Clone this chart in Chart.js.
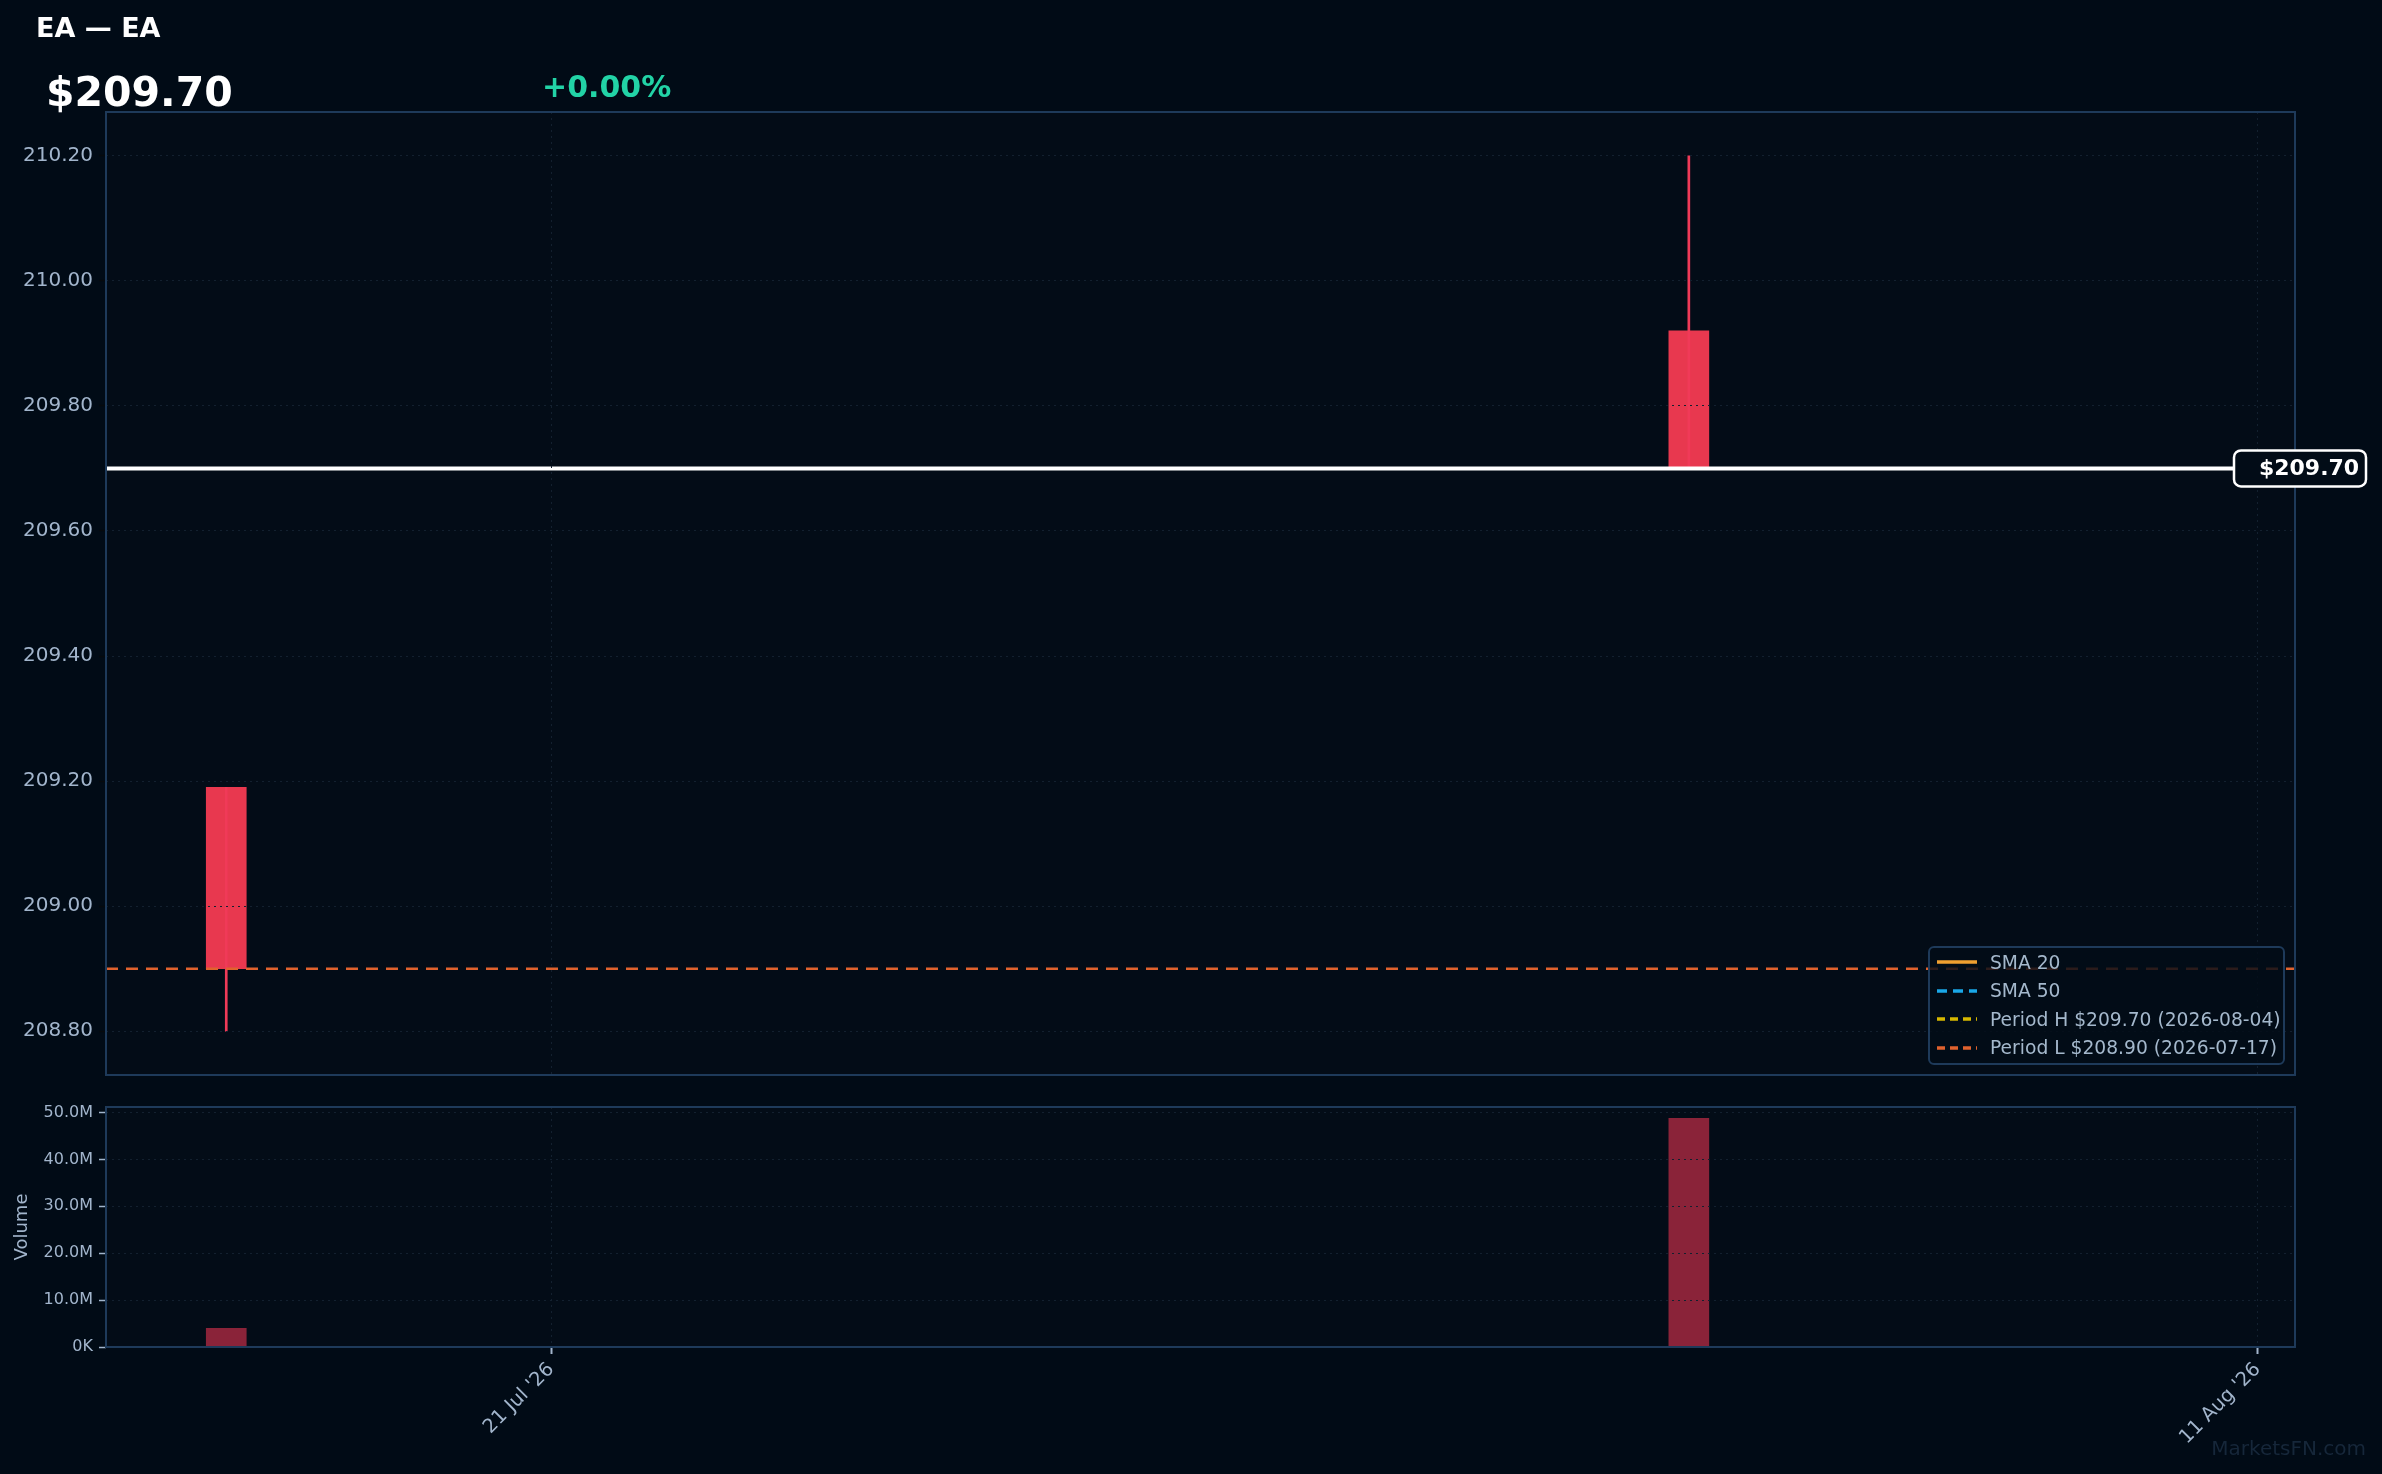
<!DOCTYPE html>
<html lang="en">
<head>
  <meta charset="UTF-8">
  <title>EA — EA</title>
  <script src="https://cdn.jsdelivr.net/npm/chart.js"></script>
  <style>
    html, body { margin: 0; padding: 0; background: #010b16; }
    body { width: 2382px; height: 1474px; position: relative; overflow: hidden; font-family: "DejaVu Sans", sans-serif; }
    canvas { position: absolute; left: 0; top: 0; }
    .txt { position: absolute; line-height: 1; white-space: nowrap; z-index: 5; }
    #title { left: 36px; top: 14px; font-size: 27px; font-weight: bold; color: #ffffff; }
    #price { left: 46px; top: 72px; font-size: 41px; font-weight: bold; color: #ffffff; }
    #change { left: 542px; top: 72px; font-size: 30px; font-weight: bold; color: #22d3a6; }
    #legend { position: absolute; left: 1928px; top: 946px; width: 353px; height: 115px; z-index: 6;
      background: rgba(2, 12, 23, 0.82); border: 2px solid #1e3a5a; border-radius: 6px; box-sizing: content-box; }
    .row { height: 28.5px; display: flex; align-items: center; padding-left: 7px; font-size: 18.7px; color: #a4b8cc; }
    .row svg { margin-right: 13px; }
    #mark { right: 16px; top: 1438px; font-size: 20px; color: #16273a; }
  </style>
</head>
<body>

  <div id="title" class="txt"></div>
  <div id="price" class="txt"></div>
  <div id="change" class="txt"></div>
  <div id="legend"></div>
  <div id="mark" class="txt">MarketsFN.com</div>

  <canvas id="priceChart" width="2382" height="1474"></canvas>
  <canvas id="volumeChart" width="2382" height="1474"></canvas>

  <script>
    // daily bars
    const ticker = 'EA';
    const dates = ['2026-07-17', '2026-08-04'];
    const opens = [209.19, 209.92];
    const highs = [209.19, 210.20];
    const lows = [208.80, 209.70];
    const closes = [208.90, 209.70];
    const volumes = [4.0e6, 48.75e6];

    // axis ticks
    const xTickDates = ['2026-07-21', '2026-08-11'];
    const priceTicks = [208.80, 209.00, 209.20, 209.40, 209.60, 209.80, 210.00, 210.20];
    const volumeTicks = [0, 10e6, 20e6, 30e6, 40e6, 50e6];

    const DAY = 86400000;
    const MONTHS = ['Jan', 'Feb', 'Mar', 'Apr', 'May', 'Jun', 'Jul', 'Aug', 'Sep', 'Oct', 'Nov', 'Dec'];
    const dayNum = s => Date.parse(s + 'T00:00:00Z') / DAY;
    const fmtDay = v => {
      const d = new Date(Math.round(v) * DAY);
      return d.getUTCDate() + ' ' + MONTHS[d.getUTCMonth()] + " '" + String(d.getUTCFullYear()).slice(2);
    };

    const xs = dates.map(dayNum);
    const xMin = xs[0] - 1.48;
    const xMax = xs[xs.length - 1] + 7.46;

    const lastClose = closes[closes.length - 1];
    const pct = 0; // header shows +0.00%
    let hiIdx = 0, loIdx = 0;
    closes.forEach((c, i) => { if (c > closes[hiIdx]) hiIdx = i; if (c < closes[loIdx]) loIdx = i; });
    const periodHigh = closes[hiIdx], periodLow = closes[loIdx];

    const pLo = Math.min(...lows), pHi = Math.max(...highs);
    const pad = (pHi - pLo) * 0.05;
    const vMax = Math.max(...volumes) * 1.05;

    document.getElementById('title').textContent = ticker + ' — ' + ticker;
    document.getElementById('price').textContent = '$' + lastClose.toFixed(2);
    document.getElementById('change').textContent = '+' + pct.toFixed(2) + '%';

    // legend
    const legendItems = [
      { label: 'SMA 20', color: '#f0a030', dash: '' },
      { label: 'SMA 50', color: '#1aa8e8', dash: '10 6' },
      { label: 'Period H $' + periodHigh.toFixed(2) + ' (' + dates[hiIdx] + ')', color: '#d6b800', dash: '8 5' },
      { label: 'Period L $' + periodLow.toFixed(2) + ' (' + dates[loIdx] + ')', color: '#e0622e', dash: '8 5' }
    ];
    document.getElementById('legend').innerHTML = legendItems.map(it =>
      '<div class="row"><svg width="40" height="6"><line x1="0" y1="3" x2="40" y2="3" stroke="' + it.color +
      '" stroke-width="3.5" stroke-dasharray="' + it.dash + '"/></svg>' + it.label + '</div>').join('');

    const candleColor = closes.map((c, i) => c >= opens[i] ? '#22c58b' : '#e8384f');
    const wickColor = closes.map((c, i) => c >= opens[i] ? '#2bd698' : '#f03a58');
    const volColor = closes.map((c, i) => c >= opens[i] ? '#1d6e55' : '#8a2339');

    const gridColor = '#13202f';
    const tickText = '#a2b5cc';
    const FONT = 'DejaVu Sans';

    // plot background + frame
    const framePlugin = {
      id: 'frame',
      beforeDraw(chart) {
        const { ctx, chartArea: a } = chart;
        ctx.save();
        ctx.fillStyle = '#030c17';
        ctx.fillRect(a.left, a.top, a.right - a.left, a.bottom - a.top);
        ctx.restore();
      },
      afterDraw(chart) {
        const { ctx, chartArea: a } = chart;
        ctx.save();
        ctx.strokeStyle = '#1e3a5a';
        ctx.lineWidth = 2;
        ctx.strokeRect(a.left, a.top, a.right - a.left, a.bottom - a.top);
        ctx.restore();
      }
    };

    // last price tag on the right edge
    const priceTag = {
      id: 'priceTag',
      afterDraw(chart) {
        const ctx = chart.ctx;
        const y = chart.scales.y.getPixelForValue(lastClose);
        ctx.save();
        ctx.beginPath();
        ctx.roundRect(2234, y - 18, 132, 36, 7);
        ctx.fillStyle = '#020c17';
        ctx.fill();
        ctx.lineWidth = 2.5;
        ctx.strokeStyle = '#ffffff';
        ctx.stroke();
        ctx.fillStyle = '#ffffff';
        ctx.font = 'bold 22px "' + FONT + '"';
        ctx.textAlign = 'center';
        ctx.textBaseline = 'middle';
        ctx.fillText('$' + lastClose.toFixed(2), 2309, y + 1);
        ctx.restore();
      }
    };

    const hLine = (v, color, width, dash, order) => ({
      type: 'line',
      data: [{ x: xMin, y: v }, { x: xMax, y: v }],
      borderColor: color,
      borderWidth: width,
      borderDash: dash,
      pointRadius: 0,
      order: order
    });

    new Chart(document.getElementById('priceChart'), {
      type: 'bar',
      data: {
        datasets: [
          {
            data: xs.map((x, i) => ({ x: x, y: [opens[i], closes[i]] })),
            backgroundColor: candleColor,
            barThickness: 40,
            grouped: false,
            borderWidth: 0,
            order: 4
          },
          {
            data: xs.map((x, i) => ({ x: x, y: [lows[i], highs[i]] })),
            backgroundColor: wickColor,
            barThickness: 2,
            grouped: false,
            borderWidth: 0,
            order: 3
          },
          hLine(periodLow, '#e0622e', 2.5, [12, 8], 2),
          hLine(periodHigh, '#d6b800', 2.5, [12, 8], 1),
          hLine(lastClose, '#ffffff', 4, [], 0)
        ]
      },
      options: {
        responsive: false,
        devicePixelRatio: 1,
        animation: false,
        layout: { padding: { left: 0, right: 87, top: 112, bottom: 399 } },
        plugins: { legend: { display: false }, tooltip: { enabled: false } },
        scales: {
          x: {
            type: 'linear',
            min: xMin,
            max: xMax,
            offset: false,
            afterBuildTicks: s => { s.ticks = xTickDates.map(d => ({ value: dayNum(d) })); },
            afterFit: s => { s.height = 0; },
            ticks: { display: false },
            grid: { color: gridColor, lineWidth: 1, drawTicks: false, offset: false, z: 1 },
            border: { display: false, dash: [2, 4] }
          },
          y: {
            min: pLo - pad,
            max: pHi + pad,
            afterBuildTicks: s => { s.ticks = priceTicks.map(v => ({ value: v })); },
            afterFit: s => { s.width = 106; },
            ticks: {
              color: tickText,
              font: { family: FONT, size: 20 },
              padding: 6,
              callback: v => v.toFixed(2)
            },
            grid: { color: gridColor, lineWidth: 1, tickLength: 7, tickColor: '#06090d', tickWidth: 1.5, z: 1 },
            border: { display: false, dash: [2, 4] }
          }
        }
      },
      plugins: [framePlugin, priceTag]
    });

    new Chart(document.getElementById('volumeChart'), {
      type: 'bar',
      data: {
        datasets: [{
          data: xs.map((x, i) => ({ x: x, y: volumes[i] })),
          backgroundColor: volColor,
          barThickness: 40,
          grouped: false,
          borderWidth: 0
        }]
      },
      options: {
        responsive: false,
        devicePixelRatio: 1,
        animation: false,
        layout: { padding: { left: 0, right: 87, top: 1107, bottom: 27 } },
        plugins: { legend: { display: false }, tooltip: { enabled: false } },
        scales: {
          x: {
            type: 'linear',
            min: xMin,
            max: xMax,
            offset: false,
            afterBuildTicks: s => { s.ticks = xTickDates.map(d => ({ value: dayNum(d) })); },
            afterFit: s => { s.height = 100; },
            ticks: {
              color: tickText,
              font: { family: FONT, size: 19.5 },
              minRotation: 45,
              maxRotation: 45,
              padding: 4,
              callback: v => fmtDay(v)
            },
            grid: { color: gridColor, lineWidth: 1, tickLength: 7, tickColor: tickText, tickWidth: 2, offset: false, z: 1 },
            border: { display: false, dash: [2, 4] }
          },
          y: {
            min: 0,
            max: vMax,
            afterBuildTicks: s => { s.ticks = volumeTicks.map(v => ({ value: v })); },
            afterFit: s => { s.width = 106; },
            title: {
              display: true,
              text: 'Volume',
              color: tickText,
              font: { family: FONT, size: 18 },
              padding: { top: 12, bottom: 0 }
            },
            ticks: {
              color: tickText,
              font: { family: FONT, size: 16 },
              padding: 6,
              callback: v => v === 0 ? '0K' : (v / 1e6).toFixed(1) + 'M'
            },
            grid: { color: gridColor, lineWidth: 1, tickLength: 7, tickColor: tickText, tickWidth: 1.5, z: 1 },
            border: { display: false, dash: [2, 4] }
          }
        }
      },
      plugins: [framePlugin]
    });
  </script>

</body>
</html>
